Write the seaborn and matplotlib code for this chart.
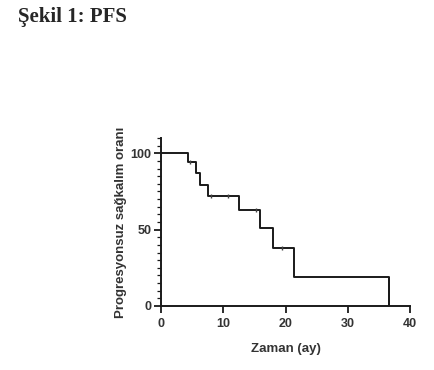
import numpy as np
import pandas as pd
import seaborn as sns
import matplotlib.pyplot as plt
from matplotlib.ticker import MultipleLocator

# Kaplan-Meier basamaklari (okunan degerler)
times = [0, 4.4, 5.6, 6.3, 7.6, 12.6, 15.9, 18.0, 21.4, 36.6]
survival = [100, 94, 87, 79, 72, 63, 51, 38, 19, 0]

# sansurlu gozlemler
censor_times = [4.7, 8.1, 10.7, 15.2, 19.5]
censor_surv = [94, 72, 72, 63, 38]

title = "Şekil 1: PFS"
xlabel = "Zaman (ay)"
ylabel = "Progresyonsuz sağkalım oranı"
xticks = [0, 10, 20, 30, 40]
yticks = [0, 50, 100]

sns.set_style("ticks")
plt.rcParams['font.family'] = ['Liberation Sans', 'DejaVu Sans']

fig = plt.figure(figsize=(4.35, 3.7), dpi=100)
ax = fig.add_axes([0.370, 0.173, 0.573, 0.454])

df = pd.DataFrame({"t": times, "s": survival})
sns.lineplot(data=df, x="t", y="s", drawstyle="steps-post", color="#1a1a1a", linewidth=1.4, ax=ax)
# son dusus 0'a kadar
ax.vlines(times[-1], survival[-1], survival[-2], color="#1a1a1a", linewidth=1.4)

cdf = pd.DataFrame({"t": censor_times, "s": censor_surv})
sns.scatterplot(data=cdf, x="t", y="s", marker="|", s=12, color="#444444", linewidth=1.0, ax=ax, zorder=3)

ax.set_xlim(0, 40)
ax.set_ylim(0, 110)
ax.set_xticks(xticks)
ax.set_yticks(yticks)
ax.yaxis.set_minor_locator(MultipleLocator(5))
ax.tick_params(axis="both", which="major", length=5, width=1.3, labelsize=9, pad=2, color="#1a1a1a")
ax.tick_params(axis="x", which="major", pad=4)
ax.tick_params(axis="y", which="minor", length=3, width=0.9, color="#1a1a1a")
for lab in ax.get_xticklabels() + ax.get_yticklabels():
    lab.set_fontweight("bold")
    lab.set_color("#333333")

sns.despine(ax=ax)
for sp in ["left", "bottom"]:
    ax.spines[sp].set_linewidth(1.4)
    ax.spines[sp].set_color("#1a1a1a")
ax.spines["left"].set_bounds(0, 110)
ax.spines["bottom"].set_bounds(0, 40)

ax.set_xlabel(xlabel, fontsize=9.5, fontweight="bold", color="#333333", labelpad=9)
ax.set_ylabel(ylabel, fontsize=9.5, fontweight="bold", color="#333333", labelpad=2)

fig.text(0.041, 0.955, title, fontsize=15, fontweight="bold", family="Liberation Serif", va="center", ha="left")

fig.savefig("out.png", dpi=100, facecolor="white")
